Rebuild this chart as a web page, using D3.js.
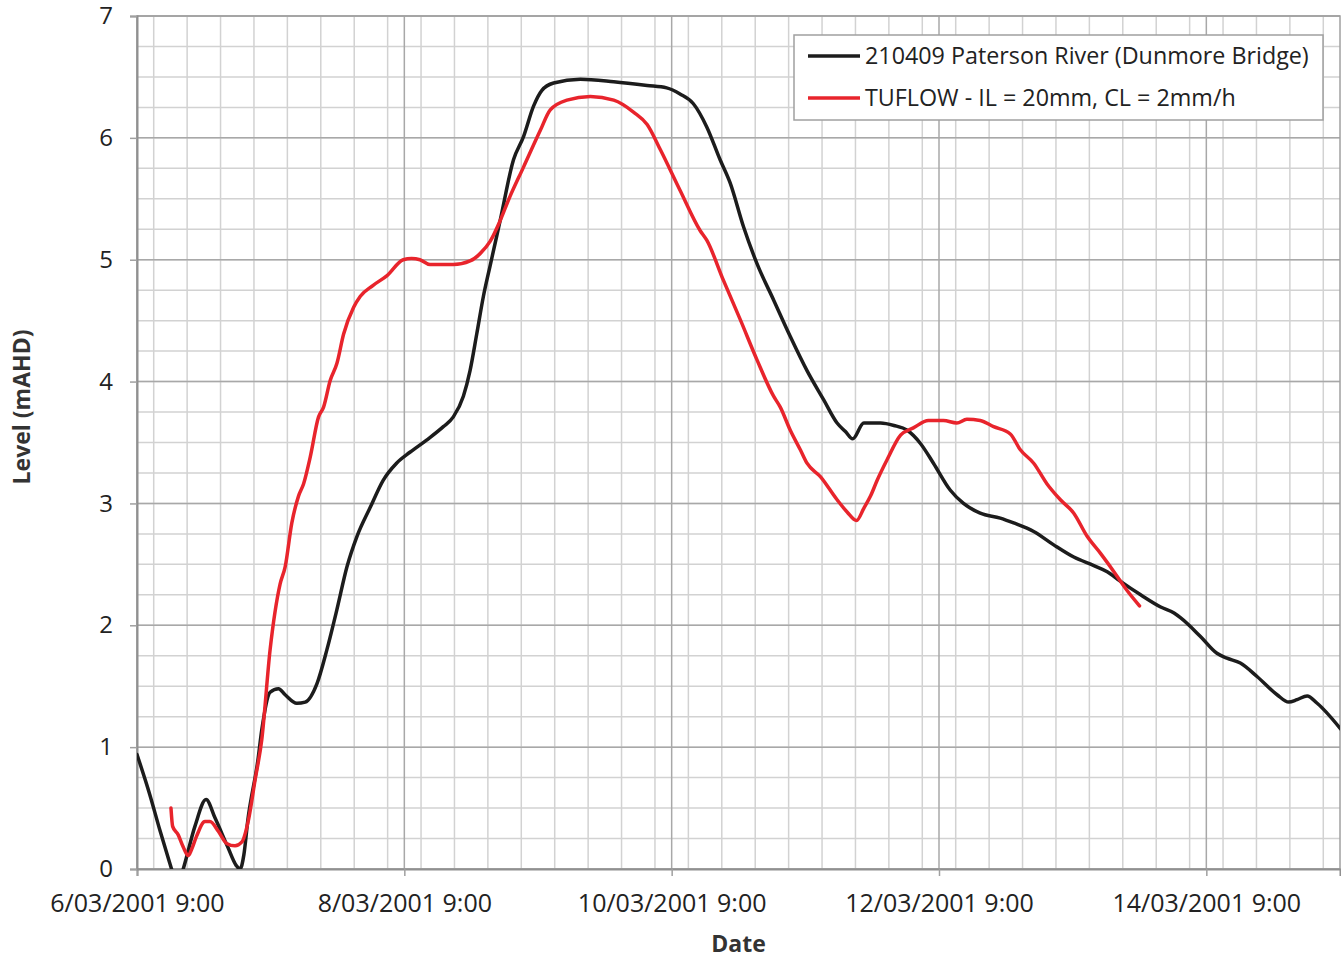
<!DOCTYPE html>
<html>
<head>
<meta charset="utf-8">
<script src="https://cdn.jsdelivr.net/npm/d3@7"></script>
<style>
  body { margin: 0; background: #fff; }
  svg { display: block; font-family: "Open Sans", "Liberation Sans", sans-serif; }
</style>
</head>
<body>
<div id="chart"></div>
<script>
// hours after 6/03/2001 9:00 and level in mAHD
const gaugeHours = [0, 2.3, 4.1, 6.2, 7.2, 8.3, 10.4, 12.4, 14.0, 16.3, 17.8, 18.5, 19.2, 19.9, 21.7, 22.4,
  23.9, 25.4, 26.6, 28.7, 30.2, 32.3, 34.1, 35.9, 37.7, 39.5, 41.9, 44.2, 46.6, 49.0, 52.0, 55.0, 56.8,
  58.6, 59.8, 61.0, 62.2, 63.4, 65.2, 67.6, 69.4, 71.2, 72.7, 74.8, 79.6, 85.6, 91.6, 95.1, 97.5, 99.9,
  102.3, 104.7, 106.5, 108.9, 111.3, 114.3, 117.3, 120.3, 123.3, 125.7, 127.2, 128.5, 130.5, 133.5,
  135.9, 138.3, 140.7, 143.0, 146.0, 148.4, 151.4, 155.0, 157.4, 161.0, 164.6, 168.2, 171.8, 174.2,
  176.6, 180.2, 183.8, 186.2, 187.4, 190.9, 193.9, 195.7, 198.1, 201.1, 204.7, 206.8, 208.3, 210.1,
  211.9, 216.1];
const gaugeLevel = [0.94, 0.61, 0.32, 0.0, -0.15, 0.0, 0.35, 0.57, 0.42, 0.18, 0.03, 0.0, 0.12, 0.40, 0.89, 1.14,
  1.45, 1.48, 1.43, 1.36, 1.37, 1.52, 1.80, 2.13, 2.48, 2.73, 2.97, 3.19, 3.33, 3.42, 3.52, 3.63, 3.71,
  3.88, 4.09, 4.39, 4.70, 4.95, 5.32, 5.82, 6.01, 6.26, 6.39, 6.45, 6.48, 6.46, 6.43, 6.41, 6.36, 6.28,
  6.09, 5.82, 5.63, 5.27, 4.97, 4.67, 4.37, 4.09, 3.85, 3.66, 3.59, 3.53, 3.66, 3.66,
  3.64, 3.60, 3.49, 3.33, 3.11, 3.00, 2.92, 2.88, 2.84, 2.77, 2.66, 2.56, 2.49, 2.44,
  2.36, 2.25, 2.15, 2.10, 2.06, 1.91, 1.77, 1.73, 1.69, 1.58, 1.43, 1.37, 1.39, 1.42,
  1.36, 1.15];

const tuflowHours = [6.1, 6.4, 7.4, 8.3, 9.2, 9.8, 10.7, 12.2, 13.1, 14.6, 16.1, 17.6, 18.8, 20.0, 21.2, 22.4,
  23.9, 25.7, 26.6, 27.8, 29.0, 29.9, 31.1, 32.6, 33.5, 34.7, 35.9, 37.1, 38.9, 40.1, 42.4, 44.9, 47.8,
  49.3, 50.8, 52.6, 56.8, 59.8, 61.6, 63.4, 65.2, 66.7, 69.4, 72.4, 74.2, 77.2, 81.4, 85.6, 89.2, 91.6,
  94.0, 97.5, 101.1, 102.3, 105.3, 108.3, 111.3, 114.3, 115.5, 117.3, 119.1, 120.3, 122.7, 125.7, 127.5,
  129.2, 130.5, 131.7, 132.9, 134.7, 137.1, 139.4, 142.1, 144.8, 147.2, 149.0, 151.4, 153.8, 156.8,
  158.6, 161.0, 163.4, 165.8, 168.2, 170.6, 173.0, 175.4, 177.7, 180.0];
const tuflowLevel = [0.50, 0.35, 0.28, 0.18, 0.11, 0.16, 0.27, 0.39, 0.39, 0.31, 0.21, 0.19, 0.22, 0.40, 0.73, 1.06,
  1.80, 2.34, 2.48, 2.84, 3.06, 3.16, 3.38, 3.71, 3.79, 4.01, 4.15, 4.39, 4.61, 4.70, 4.79, 4.87, 5.00,
  5.01, 5.00, 4.96, 4.96, 4.99, 5.05, 5.15, 5.32, 5.49, 5.76, 6.06, 6.23, 6.31, 6.34, 6.31, 6.21, 6.11,
  5.90, 5.57, 5.24, 5.16, 4.83, 4.51, 4.18, 3.88, 3.79, 3.60, 3.44, 3.33, 3.22, 3.03, 2.93,
  2.86, 2.96, 3.06, 3.19, 3.36, 3.56, 3.62, 3.68, 3.68, 3.66, 3.69, 3.68, 3.63, 3.57,
  3.44, 3.33, 3.16, 3.03, 2.92, 2.73, 2.59, 2.44, 2.29, 2.16];

const seriesNames = ["210409 Paterson River (Dunmore Bridge)", "TUFLOW - IL = 20mm, CL = 2mm/h"];
const seriesColors = ["#1c1c1c", "#e8242c"];
const yTicks = [0, 1, 2, 3, 4, 5, 6, 7];

const start = new Date(2001, 2, 6, 9, 0);
const end = new Date(2001, 2, 15, 9, 0);
const toDate = h => new Date(start.getTime() + h * 3600e3);

const width = 1341, height = 960;
const margin = { top: 16, right: 1, bottom: 91, left: 137 };
const innerW = width - margin.left - margin.right;
const innerH = height - margin.top - margin.bottom;
const fontFamily = '"Open Sans", "Liberation Sans", sans-serif';

const svg = d3.select("#chart").append("svg")
  .attr("width", width)
  .attr("height", height);

const g = svg.append("g").attr("transform", `translate(${margin.left},${margin.top})`);

const x = d3.scaleTime().domain([start, end]).range([0, innerW]);
const y = d3.scaleLinear().domain([0, 7]).range([innerH, 0]);

// grid: minor every 6 h / 0.25 m, major every 2 days / 1 m
const minorX = d3.timeHour.every(6).range(start, d3.timeHour.offset(end, 1));
const majorXTicks = d3.range(0, 9, 2).map(d => d3.timeDay.offset(start, d));
const minorY = d3.range(0, 7.01, 0.25);

g.selectAll(".vminor").data(minorX).enter().append("line")
  .attr("x1", d => x(d)).attr("x2", d => x(d))
  .attr("y1", 0).attr("y2", innerH)
  .attr("stroke", "#d2d2d2").attr("stroke-width", 1.5);

g.selectAll(".hminor").data(minorY).enter().append("line")
  .attr("x1", 0).attr("x2", innerW)
  .attr("y1", d => y(d)).attr("y2", d => y(d))
  .attr("stroke", "#d2d2d2").attr("stroke-width", 1.5);

g.selectAll(".vmajor").data(majorXTicks).enter().append("line")
  .attr("x1", d => x(d)).attr("x2", d => x(d))
  .attr("y1", 0).attr("y2", innerH)
  .attr("stroke", "#a8a8a8").attr("stroke-width", 1.5);

g.selectAll(".hmajor").data(yTicks).enter().append("line")
  .attr("x1", 0).attr("x2", innerW)
  .attr("y1", d => y(d)).attr("y2", d => y(d))
  .attr("stroke", "#a8a8a8").attr("stroke-width", 1.5);

// frame
g.append("rect")
  .attr("x", 0).attr("y", 0)
  .attr("width", innerW).attr("height", innerH)
  .attr("fill", "none").attr("stroke", "#a0a0a0").attr("stroke-width", 1.5);

// axes
const xAxis = g.append("g")
  .attr("transform", `translate(0,${innerH})`)
  .call(d3.axisBottom(x).tickValues(majorXTicks).tickSize(7).tickPadding(18)
    .tickFormat(d => `${d.getDate()}/${d3.timeFormat("%m/%Y")(d)} ${d.getHours()}:00`));
xAxis.attr("font-family", fontFamily);
xAxis.select(".domain").attr("stroke", "#909090").attr("stroke-width", 2);
xAxis.selectAll(".tick line").attr("stroke", "#a0a0a0").attr("stroke-width", 1.5);
xAxis.selectAll(".tick text").attr("fill", "#222").style("font-size", "25px");

const yAxis = g.append("g")
  .call(d3.axisLeft(y).tickValues(yTicks).tickSize(7).tickPadding(17).tickFormat(d3.format("d")));
yAxis.attr("font-family", fontFamily);
yAxis.select(".domain").attr("stroke", "#909090").attr("stroke-width", 2);
yAxis.selectAll(".tick line").attr("stroke", "#a0a0a0").attr("stroke-width", 1.5);
yAxis.selectAll(".tick text").attr("fill", "#222").style("font-size", "24px");

svg.append("text")
  .attr("x", margin.left + innerW / 2).attr("y", 952)
  .attr("text-anchor", "middle")
  .style("font-size", "23px").style("font-weight", "bold").attr("fill", "#333")
  .text("Date");

svg.append("text")
  .attr("transform", `translate(30,407) rotate(-90)`)
  .attr("text-anchor", "middle")
  .style("font-size", "23px").style("font-weight", "bold").attr("fill", "#333")
  .text("Level (mAHD)");

// lines, clipped to plot area
svg.append("clipPath").attr("id", "plot-clip")
  .append("rect").attr("width", innerW).attr("height", innerH);

const line = d3.line()
  .x(d => x(toDate(d[0])))
  .y(d => y(d[1]))
  .curve(d3.curveMonotoneX);

const gaugeData = d3.zip(gaugeHours, gaugeLevel);
const tuflowData = d3.zip(tuflowHours, tuflowLevel);

const lines = g.append("g").attr("clip-path", "url(#plot-clip)");
[gaugeData, tuflowData].forEach((data, i) => {
  lines.append("path")
    .datum(data)
    .attr("d", line)
    .attr("fill", "none")
    .attr("stroke", seriesColors[i])
    .attr("stroke-width", 3.5)
    .attr("stroke-linejoin", "round")
    .attr("stroke-linecap", "round");
});

// legend
const legend = svg.append("g").attr("transform", "translate(794,35)");
legend.append("rect")
  .attr("width", 529).attr("height", 85)
  .attr("fill", "#fff").attr("stroke", "#a0a0a0").attr("stroke-width", 1.5);

seriesNames.forEach((name, i) => {
  const row = legend.append("g").attr("transform", `translate(0,${21 + i * 42})`);
  row.append("line")
    .attr("x1", 14).attr("x2", 66)
    .attr("stroke", seriesColors[i]).attr("stroke-width", 3.5);
  row.append("text")
    .attr("x", 71).attr("dy", "0.35em")
    .style("font-size", "23.3px").attr("fill", "#222")
    .text(name);
});
</script>
</body>
</html>
